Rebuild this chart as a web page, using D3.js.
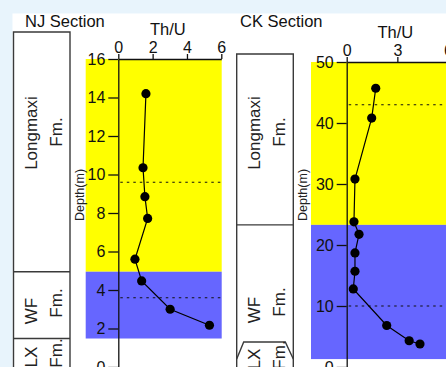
<!DOCTYPE html>
<html>
<head>
<meta charset="utf-8">
<script src="https://cdn.jsdelivr.net/npm/d3@7"></script>
<style>
  html, body { margin: 0; padding: 0; background: #e8f4fc; }
  svg { display: block; font-family: "Liberation Sans", Arial, sans-serif; }
</style>
</head>
<body>
<svg id="chart" width="446" height="367"></svg>
<script>
// ---- NJ section: Th/U ratio vs depth ----
const njDepth = [14.2, 10.35, 8.85, 7.72, 5.6, 4.47, 3.0, 2.17];
const njThU   = [1.61, 1.44, 1.55, 1.71, 0.97, 1.36, 3.02, 5.31];
const njDepthTicks = [0, 2, 4, 6, 8, 10, 12, 14, 16];
const njThUTicks = [0, 2, 4, 6];
const njBands = [ // formation intervals (m)
  { top: 16, base: 4.95, fm: "Longmaxi" },
  { top: 4.95, base: 1.48, fm: "WF" }
];
const njDashed = [9.6, 3.6];

// ---- CK section ----
const ckDepth = [45.7, 40.8, 30.8, 23.8, 21.75, 18.7, 15.7, 12.8, 6.8, 4.3, 3.77];
const ckThU   = [1.72, 1.48, 0.49, 0.43, 0.73, 0.49, 0.49, 0.39, 2.37, 3.70, 4.34];
const ckDepthTicks = [0, 10, 20, 30, 40, 50];
const ckThUTicks = [0, 3, 6];
const ckBands = [
  { top: 50, base: 23.3, fm: "Longmaxi" },
  { top: 23.3, base: 1.3, fm: "WF" }
];
const ckDashed = [43, 10];

const YELLOW = "#ffff00", BLUE = "#6666ff";
const svg = d3.select("#chart");

// white sheet behind the figure
svg.append("rect").attr("x", 12.5).attr("y", 13.5)
  .attr("width", 446).attr("height", 367).attr("fill", "#fff");

function panel(cfg) {
  const x = d3.scaleLinear().domain([0, 6]).range([cfg.x0, cfg.x1]);
  const y = d3.scaleLinear().domain([0, cfg.yMax]).range([367, cfg.yTop]);
  const g = svg.append("g");

  // title
  g.append("text").attr("x", cfg.titleX).attr("y", 27)
    .attr("font-size", 16.5).attr("fill", "#111").text(cfg.title);

  // coloured formation bands
  const bandColors = [YELLOW, BLUE];
  cfg.bands.forEach((b, i) => {
    g.append("rect")
      .attr("x", cfg.bandLeft).attr("y", y(b.top))
      .attr("width", cfg.bandRight - cfg.bandLeft)
      .attr("height", y(b.base) - y(b.top))
      .attr("fill", bandColors[i]);
  });

  // dotted reference lines
  cfg.dashed.forEach(d => {
    g.append("line")
      .attr("x1", x(0) + 2).attr("x2", cfg.dashRight)
      .attr("y1", y(d)).attr("y2", y(d))
      .attr("stroke", "#111").attr("stroke-width", 1.1)
      .attr("stroke-dasharray", "2.5,4");
  });

  // axes
  const yAxis = d3.axisLeft(y).tickValues(cfg.yTicks).tickSize(10)
    .tickSizeOuter(0).tickPadding(3).tickFormat(d3.format("d"));
  const ya = g.append("g").attr("transform", `translate(${x(0)},0)`).call(yAxis);
  const xAxis = d3.axisTop(x).tickValues(cfg.xTicks).tickSize(5)
    .tickSizeOuter(0).tickPadding(1.5).tickFormat(d3.format("d"));
  const xa = g.append("g").attr("transform", `translate(0,${cfg.yTop})`).call(xAxis);
  [ya, xa].forEach(a => {
    a.selectAll("path, line").attr("stroke", "#111").attr("stroke-width", 1.3);
    a.selectAll("text").attr("font-size", 16).attr("fill", "#111")
      .attr("font-family", "'Liberation Sans', Arial, sans-serif");
  });

  // axis titles
  g.append("text").attr("x", (cfg.x0 + cfg.x1) / 2 - 2).attr("y", cfg.yTop - 24)
    .attr("text-anchor", "middle").attr("font-size", 16.5).attr("fill", "#111")
    .text("Th/U");
  g.append("text")
    .attr("transform", `translate(${cfg.depthX},195) rotate(-90)`)
    .attr("text-anchor", "middle").attr("font-size", 12.5).attr("fill", "#222")
    .text("Depth(m)");

  // data profile
  const pts = cfg.depth.map((d, i) => ({ d, v: cfg.thu[i] }));
  g.append("path").datum(pts)
    .attr("fill", "none").attr("stroke", "#000").attr("stroke-width", 1.2)
    .attr("d", d3.line().x(p => x(p.v)).y(p => y(p.d)));
  g.selectAll("circle.pt").data(pts).join("circle")
    .attr("cx", p => x(p.v)).attr("cy", p => y(p.d)).attr("r", 4.6)
    .attr("fill", "#000");

  // lithostratigraphic column
  const col = svg.append("g").attr("stroke", "#3a3a3a").attr("stroke-width", 1.4)
    .attr("fill", "none");
  col.append("path").attr("d",
    `M${cfg.colL},380 V${cfg.colTop} H${cfg.colR} V380`);
  cfg.bands.forEach((b, i) => {
    if (i === 0 || cfg.dividers) {
      col.append("line").attr("x1", cfg.colL).attr("x2", cfg.colR)
        .attr("y1", y(b.base)).attr("y2", y(b.base));
    }
  });
  if (cfg.trapezoid) {
    const tb = y(cfg.bands[1].base), tt = tb - 17;
    col.append("path").attr("d",
      `M${cfg.colL},${tb} L${cfg.colL + 7},${tt} H${cfg.colR - 8} L${cfg.colR},${tb}`);
  }

  const lab = (txt, bx, cy) => svg.append("text")
    .attr("transform", `translate(${bx},${cy}) rotate(-90)`)
    .attr("text-anchor", "middle").attr("font-size", 17).attr("fill", "#222")
    .text(txt);
  lab("Longmaxi", cfg.colL + 23, cfg.longY);
  lab("Fm.", cfg.colL + 48, cfg.longY - 1);
  lab("WF", cfg.colL + 23, cfg.wfY + 4);
  lab("Fm.", cfg.colL + 48, cfg.wfY - 4);
  lab("LX", cfg.colL + 23, cfg.lxY);
  lab("Fm.", cfg.colL + 48, cfg.lxY - 4);
}

panel({
  title: "NJ Section", titleX: 25,
  x0: 118.3, x1: 221.3, yMax: 16, yTop: 59,
  bandLeft: 85.7, bandRight: 221.7, dashRight: 222,
  depth: njDepth, thu: njThU, yTicks: njDepthTicks, xTicks: njThUTicks,
  bands: njBands, dashed: njDashed, depthX: 84,
  colL: 13.5, colR: 70, colTop: 32, dividers: true, trapezoid: false,
  longY: 133, wfY: 307, lxY: 357
});

panel({
  title: "CK Section", titleX: 240,
  x0: 346.7, x1: 448, yMax: 50, yTop: 62,
  bandLeft: 311, bandRight: 460, dashRight: 446,
  depth: ckDepth, thu: ckThU, yTicks: ckDepthTicks, xTicks: ckThUTicks,
  bands: ckBands, dashed: ckDashed, depthX: 307,
  colL: 236.7, colR: 293.3, colTop: 54, dividers: false, trapezoid: true,
  longY: 133, wfY: 306, lxY: 359
});
</script>
</body>
</html>
